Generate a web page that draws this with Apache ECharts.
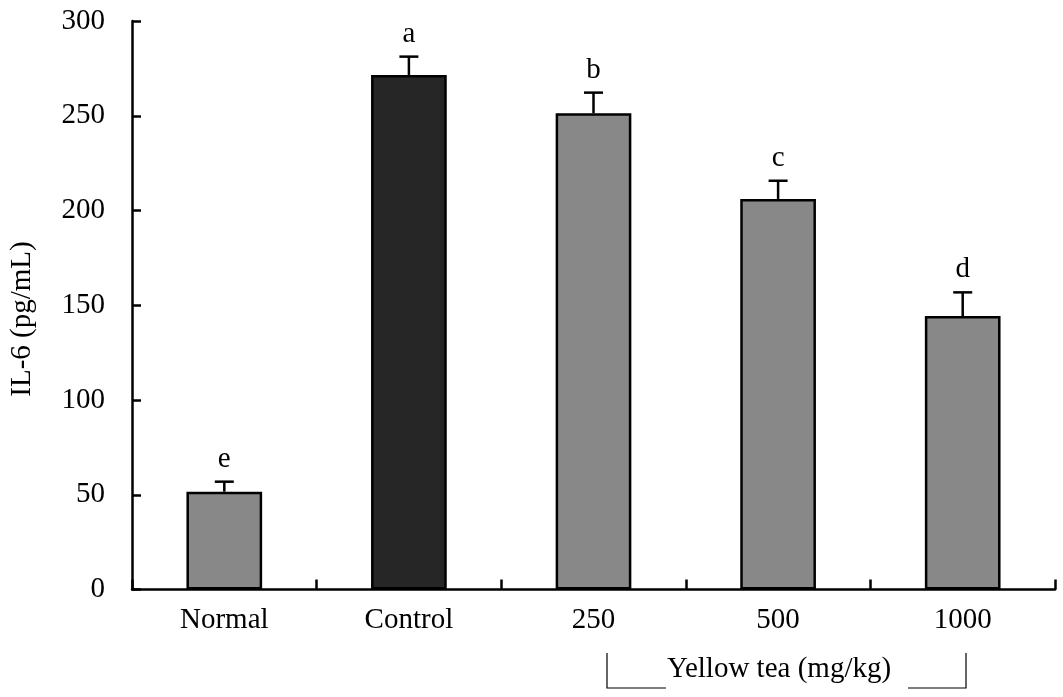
<!DOCTYPE html>
<html>
<head>
<meta charset="utf-8">
<script src="https://cdn.jsdelivr.net/npm/echarts@6/dist/echarts.min.js"></script>
<style>
html,body{margin:0;padding:0;background:#fff;}
#main{width:1063px;height:697px;}
</style>
</head>
<body>
<div id="main"></div>
<script>
// ---- data ----
var categories = ['Normal', 'Control', '250', '500', '1000'];
var means = [51.6, 271.5, 251.3, 206.1, 144.3];
var errors = [5.3, 9.7, 10.9, 9.6, 12.5];
var letters = ['e', 'a', 'b', 'c', 'd'];
var yTicks = [0, 50, 100, 150, 200, 250, 300];
var yTitle = 'IL-6 (pg/mL)';
var groupTitle = 'Yellow tea (mg/kg)';

var FONT = '"Liberation Serif", "Times New Roman", serif';
var FS = 29;
var gray = '#888888';
var dark = '#262626';

var chart = echarts.init(document.getElementById('main'), null, {renderer: 'canvas'});

var barData = means.map(function (v, i) {
  return {value: v, itemStyle: {color: i === 1 ? dark : gray}};
});
var errData = means.map(function (v, i) { return [i, v, errors[i], letters[i]]; });

var option = {
  animation: false,
  backgroundColor: '#fff',
  grid: {left: 132, right: 8, top: 21, bottom: 107.5, containLabel: false},
  xAxis: {
    type: 'category',
    data: categories,
    boundaryGap: true,
    axisLine: {lineStyle: {color: '#000', width: 2.5}},
    axisTick: {show: true, inside: true, length: 10, alignWithLabel: false, lineStyle: {color: '#000', width: 2.5}},
    axisLabel: {color: '#000', fontFamily: FONT, fontSize: FS, margin: 16},
    splitLine: {show: false}
  },
  yAxis: {
    type: 'value',
    min: yTicks[0],
    max: yTicks[yTicks.length - 1],
    interval: 50,
    axisLine: {show: true, lineStyle: {color: '#000', width: 2.5}},
    axisTick: {show: true, inside: true, length: 9, lineStyle: {color: '#000', width: 2.5}},
    axisLabel: {color: '#000', fontFamily: FONT, fontSize: FS, margin: 27},
    splitLine: {show: false}
  },
  graphic: [
    {
      type: 'text', x: 22, y: 319, rotation: Math.PI / 2,
      style: {text: yTitle, font: FS + 'px ' + FONT, fill: '#000', align: 'center', verticalAlign: 'middle'}
    },
    {
      type: 'text', x: 779, y: 669,
      style: {text: groupTitle, font: FS + 'px ' + FONT, fill: '#000', align: 'center', verticalAlign: 'middle'}
    },
    {type: 'polyline', shape: {points: [[607, 653], [607, 688], [666, 688]]}, style: {stroke: '#000', lineWidth: 1.2, fill: null}},
    {type: 'polyline', shape: {points: [[908, 688], [966, 688], [966, 653]]}, style: {stroke: '#000', lineWidth: 1.2, fill: null}}
  ],
  series: [
    {
      type: 'bar',
      data: barData,
      barWidth: '41%',
      itemStyle: {borderColor: '#000', borderWidth: 2.5},
      z: 2
    },
    {
      type: 'custom',
      data: errData,
      z: 3,
      renderItem: function (params, api) {
        var i = api.value(0);
        var top = api.coord([i, api.value(1)]);
        var hi = api.coord([i, api.value(1) + api.value(2)]);
        var half = 9.5;
        return {
          type: 'group',
          children: [
            {type: 'line', shape: {x1: top[0], y1: top[1], x2: hi[0], y2: hi[1]}, style: {stroke: '#000', lineWidth: 2.5}},
            {type: 'line', shape: {x1: hi[0] - half, y1: hi[1], x2: hi[0] + half, y2: hi[1]}, style: {stroke: '#000', lineWidth: 2.5}},
            {type: 'text', x: hi[0], y: hi[1] - 8,
              style: {text: letters[i], font: FS + 'px ' + FONT, fill: '#000', align: 'center', verticalAlign: 'bottom'}}
          ]
        };
      }
    }
  ]
};
chart.setOption(option);
</script>
</body>
</html>
